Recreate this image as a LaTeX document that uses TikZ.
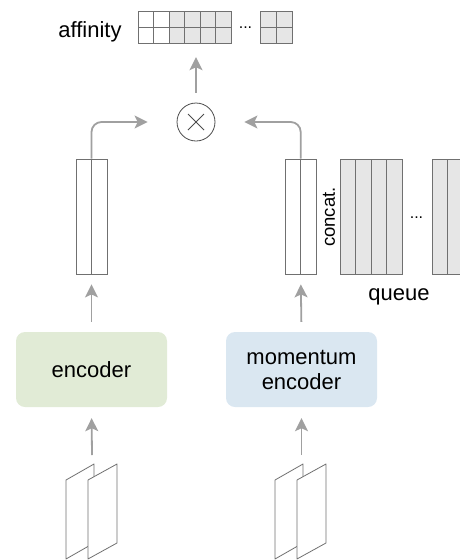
\documentclass[tikz,border=0pt]{standalone}
\usepackage{fontspec}
\setmainfont{Liberation Sans}
\usetikzlibrary{arrows.meta,calc}
\definecolor{arr}{HTML}{A0A0A0}
\definecolor{edge}{HTML}{707070}
\definecolor{cellgray}{HTML}{E6E6E6}
\definecolor{encgreen}{HTML}{E1EBD6}
\definecolor{encblue}{HTML}{DAE7F1}
\begin{document}
\begin{tikzpicture}[x=1pt,y=-1pt,
  cell/.style={draw=edge, line width=0.8pt},
  flow/.style={draw=arr, line width=1.8pt, -{Stealth[length=13pt,width=13pt,inset=3pt]}},
  colbox/.style={draw=edge, line width=0.8pt, minimum width=31pt, minimum height=115pt, inner sep=0pt, fill=white},
  encbox/.style={rounded corners=9pt, minimum width=151pt, minimum height=75pt, align=center, inner sep=0pt, font=\fontsize{22}{25}\selectfont},
  lbl/.style={font=\fontsize{22}{25}\selectfont, inner sep=0pt},
  dots/.style={font=\fontsize{16}{16}\selectfont, inner sep=0pt, anchor=base},
  sheet/.style={draw=edge, line width=0.8pt, fill=white, line join=round}
]
\useasboundingbox (0,0) rectangle (460,560);

% affinity
\node[lbl, anchor=base] (afflbl) at (90,37) {affinity};
\node[inner sep=0pt, minimum width=93pt, minimum height=32pt] (aff) at (184.5,27) {};
\fill[cellgray] (169,11) rectangle (231,43);
\foreach \x in {138,153.5,...,231} \draw[cell] (\x,11) -- (\x,43);
\draw[cell] (138,11) rectangle (231,43);
\draw[cell] (138,27) -- (231,27);
\node[dots] (affdots) at (245.5,28) {...};
\node[inner sep=0pt, minimum width=32pt, minimum height=32pt, fill=cellgray, draw=edge, line width=0.8pt] (aff2) at (276,27) {};
\draw[cell] (276,11) -- (276,43);
\draw[cell] (260,27) -- (292,27);

% product
\node[circle, draw=black!70, line width=0.8pt, minimum size=38pt, inner sep=0pt] (circ) at (196,122) {};
\draw[black!70, line width=0.8pt] ($(circ.center)+(-8,-8)$) -- ($(circ.center)+(8,8)$);
\draw[black!70, line width=0.8pt] ($(circ.center)+(-8,8)$) -- ($(circ.center)+(8,-8)$);
\draw[flow, shorten <=10pt, shorten >=14pt] (circ.north) -- (circ.north |- aff.south);

% feature columns
\node[colbox] (lcol) at (91.5,216.5) {};
\draw[cell] (lcol.north) -- (lcol.south);
\node[colbox] (rcol) at (300.7,216.5) {};
\draw[cell] (rcol.north) -- (rcol.south);

\draw[flow, rounded corners=10pt, shorten >=29pt] (lcol.north) |- (circ.west);
\draw[flow, rounded corners=10pt, shorten >=29pt] (rcol.north) |- (circ.east);

% queue
\fill[cellgray] (340,159) rectangle (402,274);
\foreach \x in {340,355.5,...,402} \draw[cell] (\x,159) -- (\x,274);
\draw[cell] (340,159) rectangle (402,274);
\fill[cellgray] (432,159) rectangle (463,274);
\foreach \x in {432,447.5,463} \draw[cell] (\x,159) -- (\x,274);
\draw[cell] (432,159) -- (463,159) (432,274) -- (463,274);
\node[dots] (qdots) at (416.5,218) {...};
\node[font=\fontsize{18.5}{20}\selectfont, inner sep=0pt, rotate=90] (concat) at (329,217) {concat.};
\node[lbl, anchor=base] (queue) at (399,300) {queue};

% encoders
\node[encbox, fill=encgreen] (enc) at (91.5,369.5) {encoder};
\node[encbox, fill=encblue] (menc) at (301.5,369.5) {momentum\\encoder};
\draw[flow, shorten <=10pt, shorten >=10pt] (enc.north) -- (lcol.south);
\draw[flow, shorten <=10pt, shorten >=10pt] (menc.north) -- (rcol.south);

% images
\draw[sheet] (66,480) -- (94,464) -- (94,543) -- (66,559) -- cycle;
\draw[sheet] (88,480) -- (117,464) -- (117,543) -- (88,559) -- cycle;
\draw[sheet] (275,480) -- (303,464) -- (303,543) -- (275,559) -- cycle;
\draw[sheet] (297,480) -- (326,464) -- (326,543) -- (297,559) -- cycle;
\coordinate (imgL) at (92,455);
\coordinate (imgR) at (301.5,455);
\draw[flow, shorten >=11pt] (imgL) -- (enc.south);
\draw[flow, shorten >=11pt] (imgR) -- (menc.south);
\end{tikzpicture}
\end{document}
